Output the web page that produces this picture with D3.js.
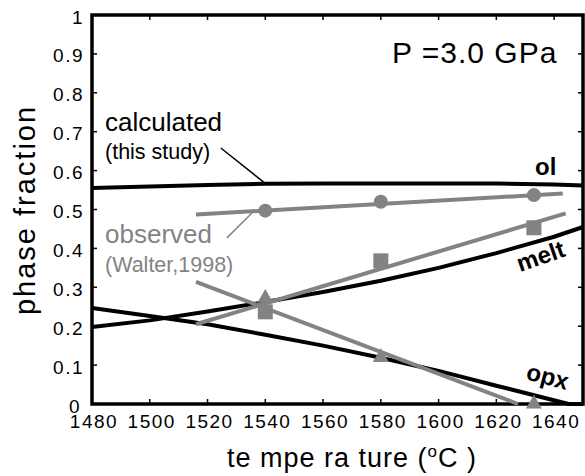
<!DOCTYPE html>
<html>
<head>
<meta charset="utf-8">
<script src="https://cdn.jsdelivr.net/npm/d3@7"></script>
<style>
  html, body { margin: 0; padding: 0; background: #fff; }
  svg { display: block; font-family: "Liberation Sans", Arial, sans-serif; }
</style>
</head>
<body>
<svg id="chart" width="585" height="476"></svg>
<script>
// Temperature ticks and phase-fraction ticks
const xTicks = [1480, 1500, 1520, 1540, 1560, 1580, 1600, 1620, 1640];
const yTicks = [0, 0.1, 0.2, 0.3, 0.4, 0.5, 0.6, 0.7, 0.8, 0.9, 1];
const yTickLabels = ["0", "0.1", "0.2", "0.3", "0.4", "0.5", "0.6", "0.7", "0.8", "0.9", "1"];

// Calculated phase proportions (this study)
const calcT = [1480, 1500, 1520, 1540, 1560, 1580, 1600, 1620, 1640, 1650];
const calcOl = [0.555, 0.559, 0.563, 0.566, 0.567, 0.567, 0.567, 0.567, 0.564, 0.562];
const calcMelt = [0.198, 0.215, 0.238, 0.262, 0.288, 0.317, 0.350, 0.388, 0.430, 0.455];
const calcOpxT = [1480, 1500, 1520, 1540, 1560, 1580, 1600, 1620, 1645, 1650];
const calcOpx = [0.247, 0.226, 0.205, 0.178, 0.150, 0.119, 0.085, 0.047, 0, 0];

// Observed phase proportions (Walter, 1998)
const obsT = [1540, 1580, 1633];
const obsOl = [0.497, 0.520, 0.537];
const obsMelt = [0.237, 0.368, 0.453];
const obsOpx = [0.272, 0.120, 0.0];

// Trend lines through the observed points: [T start, T end], [value start, value end]
const fitT = { ol: [1516, 1643], melt: [1516, 1644], opx: [1516, 1627.5] };
const fitV = { ol: [0.487, 0.541], melt: [0.205, 0.490], opx: [0.314, 0.0] };

const svg = d3.select("#chart");
const x = d3.scaleLinear().domain([1480, 1650]).range([92, 583]);
const y = d3.scaleLinear().domain([0, 1]).range([404, 15]);

const BLACK = "#000";
const GREY = "#838383";

// Frame and inward ticks on all sides
const frame = svg.append("g");
frame.append("rect")
  .attr("x", x(1480)).attr("y", y(1))
  .attr("width", x(1650) - x(1480)).attr("height", y(0) - y(1))
  .attr("fill", "none").attr("stroke", BLACK).attr("stroke-width", 3.5);

const tickLen = 5;
xTicks.forEach(t => {
  frame.append("line").attr("x1", x(t)).attr("x2", x(t))
    .attr("y1", y(0)).attr("y2", y(0) - tickLen).attr("stroke", BLACK).attr("stroke-width", 1.5);
  frame.append("line").attr("x1", x(t)).attr("x2", x(t))
    .attr("y1", y(1)).attr("y2", y(1) + tickLen).attr("stroke", BLACK).attr("stroke-width", 1.5);
});
yTicks.forEach(v => {
  frame.append("line").attr("x1", x(1480)).attr("x2", x(1480) + tickLen)
    .attr("y1", y(v)).attr("y2", y(v)).attr("stroke", BLACK).attr("stroke-width", 1.5);
  frame.append("line").attr("x1", x(1650)).attr("x2", x(1650) - tickLen)
    .attr("y1", y(v)).attr("y2", y(v)).attr("stroke", BLACK).attr("stroke-width", 1.5);
});

// Tick labels
svg.append("g").selectAll("text").data(xTicks).join("text")
  .attr("x", d => x(d) + 2).attr("y", 428)
  .attr("text-anchor", "middle").attr("font-size", 19).attr("letter-spacing", 1.5)
  .attr("fill", BLACK).text(d => d);
svg.append("g").selectAll("text").data(yTicks).join("text")
  .attr("x", d => d === 0 ? 81 : 84).attr("y", d => y(d) + 8.5)
  .attr("text-anchor", "end").attr("font-size", 19).attr("letter-spacing", 1.5)
  .attr("fill", BLACK).text((d, i) => yTickLabels[i]);

// Axis titles
svg.append("text")
  .attr("transform", "translate(35,210) rotate(-90)")
  .attr("text-anchor", "middle").attr("font-size", 29).attr("letter-spacing", 2)
  .attr("fill", BLACK).text("phase fraction");
const xt = svg.append("text")
  .attr("x", 352).attr("y", 467)
  .attr("text-anchor", "middle").attr("font-size", 27).attr("letter-spacing", 1)
  .attr("fill", BLACK);
xt.append("tspan").text("te mpe ra ture  (");
xt.append("tspan").attr("font-size", 17).attr("dy", -10).text("o");
xt.append("tspan").attr("dy", 10).text("C )");

// Calculated curves
const line = d3.line().x(d => x(d[0])).y(d => y(d[1]));
const calcSeries = [
  d3.zip(calcT, calcOl),
  d3.zip(calcT, calcMelt),
  d3.zip(calcOpxT, calcOpx)
];
svg.append("g").selectAll("path").data(calcSeries).join("path")
  .attr("d", line).attr("fill", "none").attr("stroke", BLACK)
  .attr("stroke-width", 4).attr("stroke-linejoin", "round");

// Observed trend lines
["ol", "melt", "opx"].forEach(k => {
  svg.append("path")
    .attr("d", line(d3.zip(fitT[k], fitV[k])))
    .attr("fill", "none").attr("stroke", GREY).attr("stroke-width", 4);
});

// Observed markers
const obs = svg.append("g").attr("fill", GREY);
obs.selectAll("circle").data(d3.zip(obsT, obsOl)).join("circle")
  .attr("cx", d => x(d[0])).attr("cy", d => y(d[1])).attr("r", 7);
obs.selectAll("rect").data(d3.zip(obsT, obsMelt)).join("rect")
  .attr("x", d => x(d[0]) - 7.5).attr("y", d => y(d[1]) - 7.5)
  .attr("width", 15).attr("height", 15);
const tri = d3.symbol().type(d3.symbolTriangle).size(110);
obs.selectAll("path").data(d3.zip(obsT, obsOpx)).join("path")
  .attr("transform", d => `translate(${x(d[0])},${y(d[1])})`)
  .attr("d", tri);

// Legend-style annotations
svg.append("text").attr("x", 105).attr("y", 131).attr("font-size", 26)
  .attr("fill", BLACK).text("calculated");
svg.append("text").attr("x", 105).attr("y", 159).attr("font-size", 21.5)
  .attr("fill", BLACK).text("(this study)");
svg.append("line")
  .attr("x1", x(1524.6)).attr("y1", y(0.658))
  .attr("x2", x(1540)).attr("y2", y(0.567))
  .attr("stroke", BLACK).attr("stroke-width", 1.5);

svg.append("text").attr("x", 105).attr("y", 243).attr("font-size", 26)
  .attr("fill", GREY).text("observed");
svg.append("text").attr("x", 105).attr("y", 272).attr("font-size", 21.5)
  .attr("fill", GREY).text("(Walter,1998)");
svg.append("line")
  .attr("x1", x(1526.7)).attr("y1", y(0.427))
  .attr("x2", x(1535.4)).attr("y2", y(0.491))
  .attr("stroke", GREY).attr("stroke-width", 1.5);

// Pressure label
svg.append("text").attr("x", 392).attr("y", 63).attr("font-size", 30)
  .attr("letter-spacing", 1).attr("fill", BLACK).text("P =3.0 GPa");

// Phase labels
svg.append("text").attr("x", 535).attr("y", 175).attr("font-size", 24)
  .attr("font-weight", "bold").attr("fill", BLACK).text("ol");
svg.append("text").attr("transform", "translate(520,272) rotate(-19)")
  .attr("font-size", 24).attr("font-weight", "bold").attr("fill", BLACK).text("melt");
svg.append("text").attr("transform", "translate(525,379) rotate(15)")
  .attr("font-size", 24).attr("font-weight", "bold").attr("fill", BLACK).text("opx");
</script>
</body>
</html>
